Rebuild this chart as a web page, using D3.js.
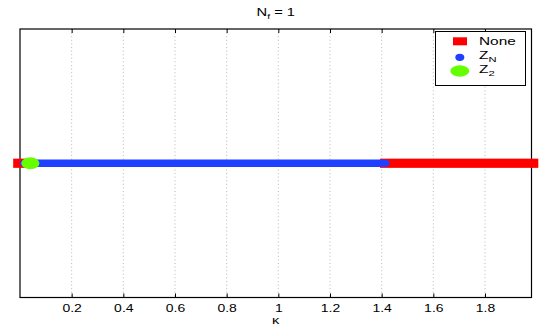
<!DOCTYPE html>
<html>
<head>
<meta charset="utf-8">
<script src="https://cdn.jsdelivr.net/npm/d3@7/dist/d3.min.js"></script>
<style>
body { margin: 0; background: #fff; }
text { font-family: "Liberation Sans", Arial, sans-serif; fill: #000; }
</style>
</head>
<body>
<svg id="canvas" width="545" height="327"></svg>
<script>
// phases found along kappa (N_f = 1)
const phaseNames = ["None", "Z_N", "Z_2"];
const phaseColors = ["#ff0000", "#2040ff", "#66ff00"];
const segStart = [0, 0.02, 1.42];
const segEnd = [0.01, 1.41, 1.98];
const segPhase = ["None", "Z_N", "None"];
const z2Points = [0.04];
const xTicks = [0.2, 0.4, 0.6, 0.8, 1, 1.2, 1.4, 1.6, 1.8];
const xDomain = [0, 1.98];

const svg = d3.select("#canvas");

const plotL = 20, plotR = 531.5, plotT = 29, plotB = 297.5;
// the figure is stretched sideways, text too
const sx = 1.4;

const x = d3.scaleLinear().domain(xDomain).range([plotL, plotR]);
const y = d3.scaleLinear().domain([-1, 1]).range([plotB, plotT]);
const color = d3.scaleOrdinal().domain(phaseNames).range(phaseColors);

// dotted grid
svg.append("g")
    .selectAll("line")
    .data(xTicks)
    .join("line")
    .attr("x1", d => x(d)).attr("x2", d => x(d))
    .attr("y1", plotT).attr("y2", plotB)
    .attr("stroke", "#999")
    .attr("stroke-width", 0.7)
    .attr("stroke-dasharray", "1,2.6");

// bottom axis, ticks pointing inwards
const xAxis = d3.axisBottom(x)
    .tickValues(xTicks)
    .tickSize(-4)
    .tickPadding(7)
    .tickFormat(d3.format("~g"));

const xg = svg.append("g")
    .attr("transform", "translate(0," + plotB + ")")
    .call(xAxis);
xg.select(".domain").remove();
xg.selectAll("text")
    .attr("font-size", 10)
    .attr("font-family", "Liberation Sans, Arial, sans-serif")
    .attr("transform", "scale(" + sx + ",1)");
xg.selectAll("line").attr("stroke", "#000");

// top ticks
svg.append("g")
    .attr("transform", "translate(0," + plotT + ")")
    .call(d3.axisTop(x).tickValues(xTicks).tickSize(-4).tickFormat(""))
    .call(g => g.select(".domain").remove())
    .selectAll("line").attr("stroke", "#000");

// box
svg.append("rect")
    .attr("x", plotL).attr("y", plotT)
    .attr("width", plotR - plotL).attr("height", plotB - plotT)
    .attr("fill", "none")
    .attr("stroke", "#000")
    .attr("stroke-width", 1.2);

// phase bands
const marks = svg.append("g");
const segs = segStart.map((s, i) => ({ from: s, to: segEnd[i], phase: segPhase[i] }));

marks.selectAll(".none")
    .data(segs.filter(d => d.phase === "None"))
    .join("rect")
    .attr("class", "none")
    .attr("x", d => x(d.from) - 6.8)
    .attr("y", y(0) - 4.6)
    .attr("width", d => x(d.to) - x(d.from) + 13.6)
    .attr("height", 9.2)
    .attr("fill", color("None"));

marks.selectAll(".zn")
    .data(segs.filter(d => d.phase === "Z_N"))
    .join("rect")
    .attr("class", "zn")
    .attr("x", d => x(d.from) - 5.6)
    .attr("y", y(0) - 3.7)
    .attr("width", d => x(d.to) - x(d.from) + 11.2)
    .attr("height", 7.4)
    .attr("rx", 5.6).attr("ry", 3.7)
    .attr("fill", color("Z_N"));

marks.selectAll(".z2")
    .data(z2Points)
    .join("ellipse")
    .attr("class", "z2")
    .attr("cx", d => x(d))
    .attr("cy", y(0))
    .attr("rx", 9).attr("ry", 6)
    .attr("fill", color("Z_2"));

// title
const title = svg.append("text")
    .attr("transform", "translate(" + (plotL + plotR) / 2 + ",16) scale(" + sx + ",1)")
    .attr("text-anchor", "middle")
    .attr("font-size", 10.5);
title.append("tspan").text("N");
title.append("tspan").attr("font-size", 7.5).attr("dy", 3).text("f");
title.append("tspan").attr("dy", -3).text(" = 1");

// axis label
svg.append("text")
    .attr("transform", "translate(" + (plotL + plotR) / 2 + ",323.5) scale(" + sx + ",1)")
    .attr("text-anchor", "middle")
    .attr("font-size", 10.5)
    .text("κ");

// legend
const lg = svg.append("g");
lg.append("rect")
    .attr("x", 435.5).attr("y", 31.5)
    .attr("width", 90).attr("height", 54)
    .attr("fill", "#fff")
    .attr("stroke", "#000")
    .attr("stroke-width", 1);

const legY = [41.3, 57.3, 71];
const legBase = [45, 58.5, 73];
lg.append("rect")
    .attr("x", 453).attr("y", legY[0] - 4)
    .attr("width", 14).attr("height", 8)
    .attr("fill", color("None"));
lg.append("ellipse")
    .attr("cx", 459.8).attr("cy", legY[1])
    .attr("rx", 4.5).attr("ry", 3.6)
    .attr("fill", color("Z_N"));
lg.append("ellipse")
    .attr("cx", 459.8).attr("cy", legY[2])
    .attr("rx", 9.5).attr("ry", 5.7)
    .attr("fill", color("Z_2"));

phaseNames.forEach((name, i) => {
    const t = lg.append("text")
        .attr("transform", "translate(479," + legBase[i] + ") scale(" + sx + ",1)")
        .attr("font-size", 11);
    const parts = name.split("_");
    t.append("tspan").text(parts[0]);
    if (parts[1]) t.append("tspan").attr("font-size", 8).attr("dy", 3).text(parts[1]);
});
</script>
</body>
</html>
